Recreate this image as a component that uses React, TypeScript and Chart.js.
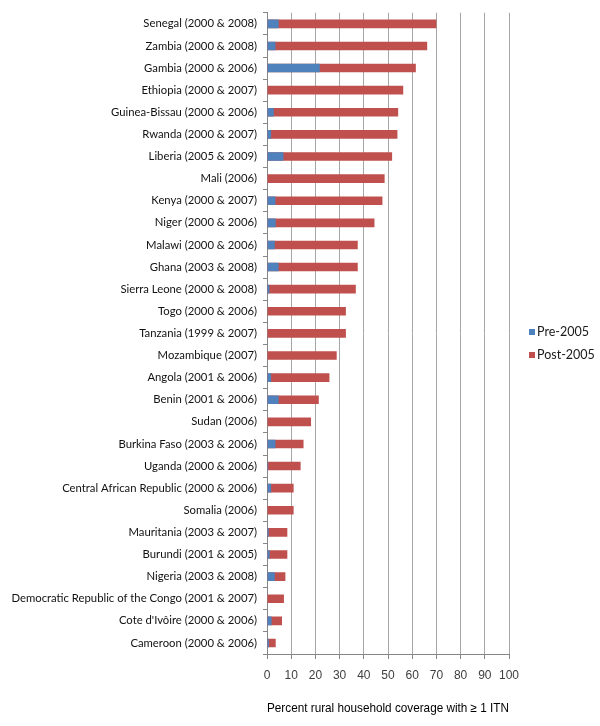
import React, { useEffect, useRef } from "react";
import { Chart, registerables } from "chart.js";

Chart.register(...registerables);

const countries: string[] = [
  "Senegal (2000 & 2008)",
  "Zambia (2000 & 2008)",
  "Gambia (2000 & 2006)",
  "Ethiopia (2000 & 2007)",
  "Guinea-Bissau (2000 & 2006)",
  "Rwanda (2000 & 2007)",
  "Liberia (2005 & 2009)",
  "Mali (2006)",
  "Kenya (2000 & 2007)",
  "Niger (2000 & 2006)",
  "Malawi (2000 & 2006)",
  "Ghana (2003 & 2008)",
  "Sierra Leone (2000 & 2008)",
  "Togo (2000 & 2006)",
  "Tanzania (1999 & 2007)",
  "Mozambique (2007)",
  "Angola (2001 & 2006)",
  "Benin (2001 & 2006)",
  "Sudan (2006)",
  "Burkina Faso (2003 & 2006)",
  "Uganda (2000 & 2006)",
  "Central African Republic (2000 & 2006)",
  "Somalia (2006)",
  "Mauritania (2003 & 2007)",
  "Burundi (2001 & 2005)",
  "Nigeria (2003 & 2008)",
  "Democratic Republic of the Congo (2001 & 2007)",
  "Cote d'Ivôire (2000 & 2006)",
  "Cameroon (2000 & 2006)",
];

const pre2005: (number | null)[] = [
  4.8, 3.5, 21.8, 0, 2.8, 1.7, 6.8, null, 3.5, 3.6, 3.2, 4.8, 1.0, 0, 0, null,
  1.7, 4.8, null, 3.5, 0.5, 1.7, null, 0.7, 1.1, 3.2, 0, 1.9, 0.8,
];

const post2005: number[] = [
  70.0, 66.2, 61.5, 56.3, 54.2, 53.9, 51.7, 48.6, 47.7, 44.4, 37.5, 37.5, 36.7,
  32.6, 32.6, 28.8, 25.8, 21.4, 18.2, 15.1, 13.9, 11.0, 11.0, 8.4, 8.4, 7.6,
  7.0, 6.2, 3.6,
];

const seriesNames: string[] = ["Pre-2005", "Post-2005"];
const seriesColors: string[] = ["#4F81BD", "#C0504D"];

const xAxisTitle = "Percent rural household coverage with \u2265 1 ITN";

const legendPlugin = {
  id: "sideLegend",
  afterDraw(chart: any) {
    const ctx = chart.ctx as CanvasRenderingContext2D;
    const area = chart.chartArea;
    const x = area.right + 20;
    ctx.save();
    ctx.font = "12.5px Lato";
    ctx.textBaseline = "middle";
    ctx.textAlign = "left";
    chart.data.datasets.forEach((ds: any, i: number) => {
      const y = 332 + i * 23;
      ctx.fillStyle = ds.backgroundColor;
      ctx.fillRect(x, y - 3, 6, 6);
      ctx.fillStyle = "#1a1a1a";
      ctx.fillText(ds.label, x + 8, y);
    });
    ctx.restore();
  },
};

export default function App() {
  const canvasRef = useRef<HTMLCanvasElement | null>(null);

  useEffect(() => {
    const canvas = canvasRef.current;
    if (!canvas) return;
    const chart = new Chart(canvas, {
      type: "bar",
      data: {
        labels: countries,
        datasets: [
          {
            label: seriesNames[0],
            data: pre2005,
            backgroundColor: seriesColors[0],
            grouped: false,
            categoryPercentage: 1,
            barPercentage: 0.39,
          } as any,
          {
            label: seriesNames[1],
            data: post2005,
            backgroundColor: seriesColors[1],
            grouped: false,
            categoryPercentage: 1,
            barPercentage: 0.39,
          } as any,
        ],
      },
      options: {
        indexAxis: "y",
        responsive: false,
        animation: false,
        devicePixelRatio: 1,
        layout: { padding: { top: 6, right: 91, bottom: 0, left: 0 } },
        plugins: {
          legend: { display: false },
          tooltip: { enabled: false },
        },
        scales: {
          x: {
            type: "linear",
            min: 0,
            max: 100,
            ticks: {
              stepSize: 10,
              color: "#404040",
              font: { family: "Liberation Sans", size: 12 },
              padding: 9,
              maxRotation: 0,
              minRotation: 0,
              autoSkip: false,
            },
            grid: {
              color: "#a6a6a6",
              tickColor: "#868686",
              tickLength: 5,
              drawTicks: true,
            },
            border: { color: "#868686" },
            title: {
              display: true,
              text: xAxisTitle,
              color: "#000",
              font: { family: "Liberation Sans", size: 12.6 },
              padding: { top: 4, bottom: 10 },
            },
            afterFit: (scale: any) => {
              scale.height = 72;
            },
          },
          y: {
            type: "category",
            offset: true,
            ticks: {
              color: "#111",
              font: { family: "Lato", size: 11.3 },
              padding: 6,
              autoSkip: false,
            },
            grid: {
              offset: true,
              drawOnChartArea: false,
              drawTicks: true,
              tickLength: 4,
              tickColor: "#868686",
              color: "#868686",
            },
            border: { color: "#868686" },
            afterFit: (scale: any) => {
              scale.width = 267;
            },
          },
        },
      },
      plugins: [legendPlugin],
    });
    return () => chart.destroy();
  }, []);

  return (
    <div style={{ position: "absolute", left: 0, top: 0, width: 600, height: 726, background: "#fff" }}>
      <canvas ref={canvasRef} width={600} height={726} style={{ width: 600, height: 726, display: "block" }} />
    </div>
  );
}
